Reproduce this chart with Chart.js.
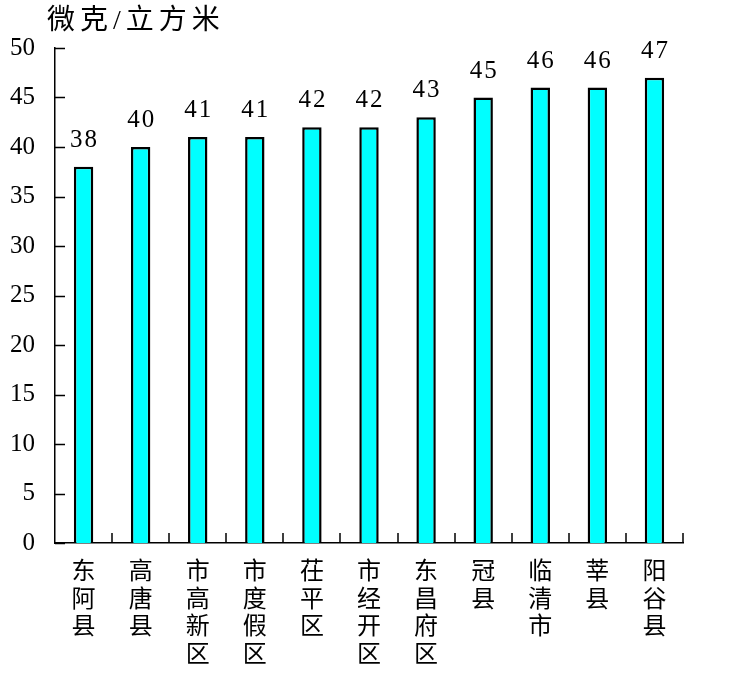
<!DOCTYPE html>
<html>
<head>
<meta charset="utf-8">
<script src="https://cdn.jsdelivr.net/npm/chart.js@4.4.1/dist/chart.umd.min.js"></script>
<style>
  html, body { margin: 0; padding: 0; background: #fff; }
  #wrap { width: 738px; height: 692px; }
</style>
</head>
<body>
<div id="wrap"><canvas id="myChart"></canvas></div>
<script>
// categories and values
var places = ['东阿县', '高唐县', '市高新区', '市度假区', '茌平区', '市经开区', '东昌府区', '冠县', '临清市', '莘县', '阳谷县'];
var values = [38, 40, 41, 41, 42, 42, 43, 45, 46, 46, 47];
var yTicks = [0, 5, 10, 15, 20, 25, 30, 35, 40, 45, 50];
var unitText = '微克/立方米';

var serif = '"Liberation Serif", "Noto Sans CJK SC", serif';

// each label drawn as a vertical column of characters
var xLabels = places.map(function (p) { return p.split(''); });

// inner tick marks, value labels and unit caption
var extras = {
  id: 'extras',
  afterDraw: function (chart) {
    var ctx = chart.ctx, x = chart.scales.x, y = chart.scales.y;
    var a = chart.chartArea;
    ctx.save();
    ctx.strokeStyle = '#000';
    ctx.lineWidth = 1.5;
    ctx.beginPath();
    // y ticks point into the plot
    yTicks.forEach(function (v) {
      var py = Math.round(y.getPixelForValue(v)) + 0.5;
      ctx.moveTo(a.left, py);
      ctx.lineTo(a.left + 10, py);
    });
    // x ticks sit between the categories and point up
    for (var i = 1; i <= places.length; i++) {
      var px = Math.round((x.getPixelForValue(i - 1) + x.getPixelForValue(i)) / 2);
      if (i === places.length) px = Math.round(a.right);
      ctx.moveTo(px, a.bottom);
      ctx.lineTo(px, a.bottom - 10);
    }
    ctx.stroke();

    // value labels above the bars
    ctx.fillStyle = '#000';
    ctx.font = '25px ' + serif;
    ctx.textAlign = 'center';
    ctx.textBaseline = 'bottom';
    ctx.letterSpacing = '2px';
    var meta = chart.getDatasetMeta(0);
    meta.data.forEach(function (bar, i) {
      ctx.fillText(String(values[i]), bar.x + 1, bar.y - 14);
    });
    ctx.letterSpacing = '0px';

    // unit caption, spaced out like the original
    ctx.font = '28px ' + serif;
    ctx.textAlign = 'left';
    ctx.textBaseline = 'top';
    var cx = 47;
    unitText.split('').forEach(function (ch) {
      ctx.fillText(ch, cx, 8);
      cx += ctx.measureText(ch).width + 5;
    });
    ctx.restore();
  }
};

new Chart('myChart', {
  type: 'bar',
  data: {
    labels: xLabels,
    datasets: [{
      data: values,
      backgroundColor: '#00FFFF',
      borderColor: '#000',
      borderWidth: 2.5,
      borderSkipped: 'bottom',
      barPercentage: 0.34,
      categoryPercentage: 1
    }]
  },
  options: {
    responsive: true,
    maintainAspectRatio: false,
    animation: false,
    layout: { padding: { top: 48, right: 55, left: 0, bottom: 0 } },
    plugins: {
      legend: { display: false },
      tooltip: { enabled: false }
    },
    scales: {
      x: {
        grid: { display: false, drawTicks: false },
        border: { color: '#000', width: 1.5 },
        ticks: {
          color: '#000',
          font: { family: serif, size: 24, lineHeight: 1.15 },
          padding: 16,
          maxRotation: 0,
          autoSkip: false
        },
        afterFit: function (s) { s.height = 149; }
      },
      y: {
        min: 0,
        max: 50,
        grid: { display: false, drawTicks: false },
        border: { color: '#000', width: 1.5 },
        ticks: {
          stepSize: 5,
          color: '#000',
          font: { family: serif, size: 25 },
          padding: 20
        },
        afterFit: function (s) { s.width = 55; }
      }
    }
  },
  plugins: [extras]
});
</script>
</body>
</html>
